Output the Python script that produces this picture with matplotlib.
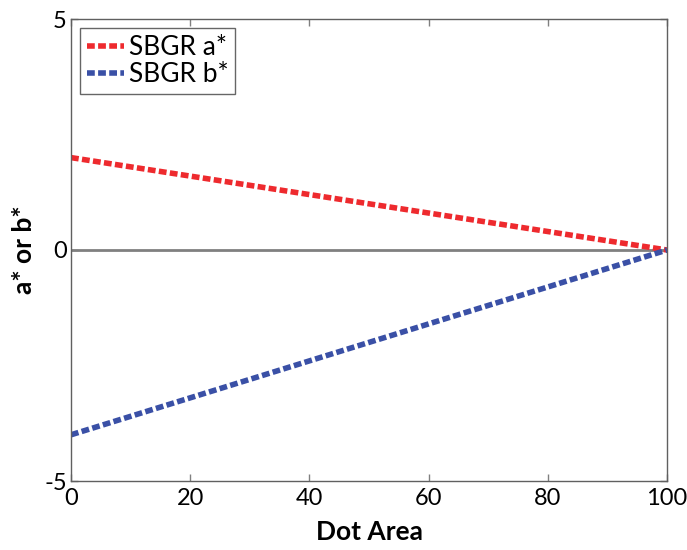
import numpy as np
import matplotlib
matplotlib.use("Agg")
import matplotlib.pyplot as plt

plt.rcParams['font.family'] = ['Lato', 'DejaVu Sans']
plt.rcParams['axes.unicode_minus'] = False

# Dot area sweep and the a*/b* endpoints
dot_area = [0, 100]
sbgr_a = [2, 0]
sbgr_b = [-4, 0]

x_ticks = [0, 20, 40, 60, 80, 100]
y_ticks = [-5, 0, 5]

fig = plt.figure(figsize=(6.87, 5.50), dpi=100)
ax = fig.add_axes([71 / 687, 1 - 481 / 550, 596 / 687, 462 / 550])

ax.axhline(0, color='#808080', lw=2, zorder=1)
ax.plot(dot_area, sbgr_a, color='#ee2a2e', lw=4, ls=(0, (1.4, 0.6)), label='SBGR a*', zorder=2)
ax.plot(dot_area, sbgr_b, color='#3a50a6', lw=4, ls=(0, (1.4, 0.6)), label='SBGR b*', zorder=2)

ax.set_xlim(0, 100)
ax.set_ylim(-5, 5)
ax.set_xticks(x_ticks)
ax.set_yticks(y_ticks)
ax.tick_params(direction='in', length=5, width=1, color='#808080', labelsize=17,
               top=True, right=True)
ax.tick_params(axis='x', pad=5)
ax.tick_params(axis='y', pad=3)
for s in ax.spines.values():
    s.set_color('#606060')
    s.set_linewidth(1)

ax.set_xlabel('Dot Area', fontsize=19, fontweight='bold', labelpad=8)
ax.set_ylabel('a* or b*', fontsize=19, fontweight='bold', labelpad=6)

leg = ax.legend(loc='upper left', fontsize=19, frameon=True, fancybox=False,
                handlelength=1.4, handletextpad=0.2, borderpad=0.25,
                labelspacing=0.1, borderaxespad=0.35)
leg.get_frame().set_edgecolor('#404040')
leg.get_frame().set_linewidth(1)

fig.savefig('out.png', dpi=100)
